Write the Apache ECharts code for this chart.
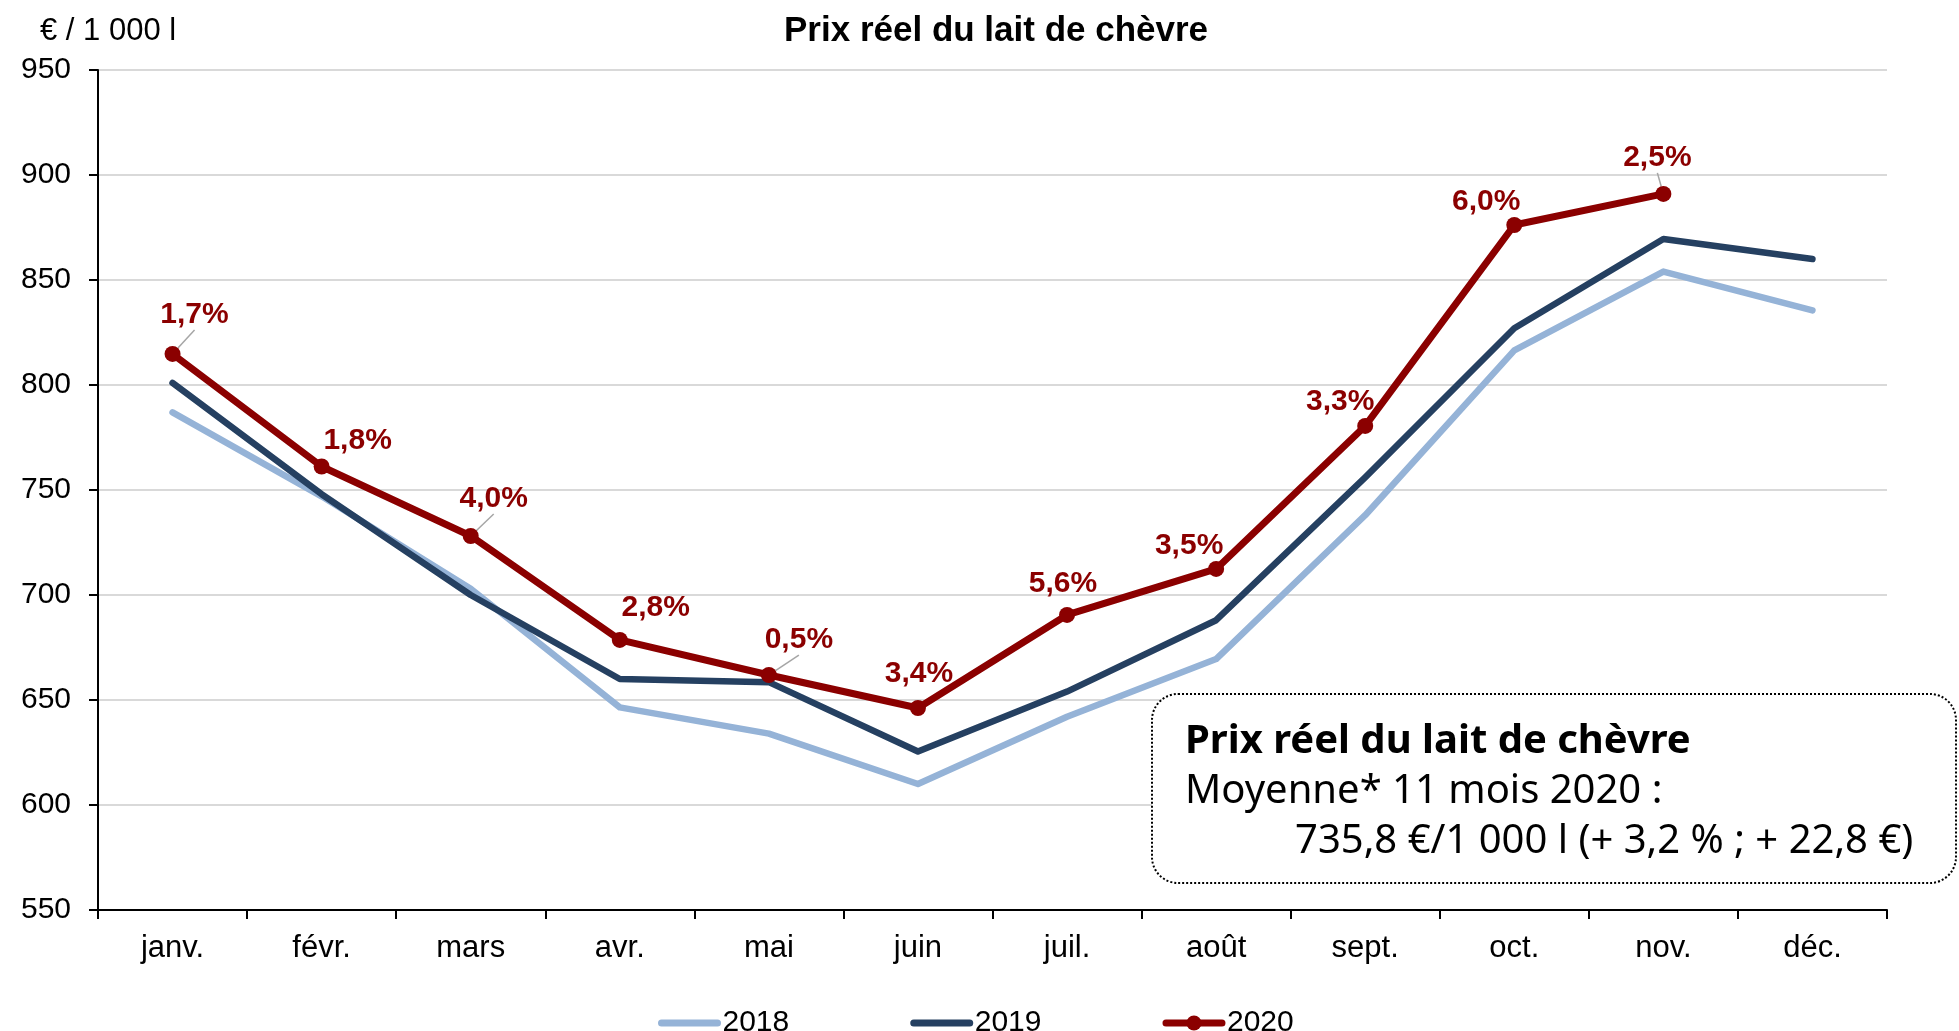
<!DOCTYPE html>
<html>
<head>
<meta charset="utf-8">
<script src="https://cdn.jsdelivr.net/npm/echarts@6/dist/echarts.min.js"></script>
<style>
  html, body { margin: 0; padding: 0; background: #fff; }
  #chart { width: 1959px; height: 1031px; }
</style>
</head>
<body>
<div id="chart"></div>
<script>
// ===== 数据 =====
const months = ['janv.', 'févr.', 'mars', 'avr.', 'mai', 'juin', 'juil.', 'août', 'sept.', 'oct.', 'nov.', 'déc.']
const prix2018 = [787, 747, 703, 646.5, 634, 610, 642, 669.5, 738, 816.5, 854, 835.5]
const prix2019 = [801, 748, 700, 660, 658.5, 625.5, 654, 688, 756, 827, 869.5, 860]
const prix2020 = [814.8, 761.2, 728.1, 678.6, 661.9, 646.2, 690.5, 712.4, 780.5, 876.2, 891, null]
const variation2020 = ['1,7%', '1,8%', '4,0%', '2,8%', '0,5%', '3,4%', '5,6%', '3,5%', '3,3%', '6,0%', '2,5%']
const yTicks = { min: 550, max: 950, step: 50 }

// label placement (px, relative to the point) + which ones get a leader line
const labelOffsets = [[22, -39], [36, -26], [23, -37], [36, -32], [30, -35], [1, -34],
  [-4, -31], [-27, -23], [-25, -24], [-28, -23], [-6, -36]]
const withLeader = [0, 2, 4, 10]

const font = "'Liberation Sans', Arial, sans-serif"
const boxFont = "'Noto Sans', sans-serif"
const red = '#8B0000'
const lightBlue = '#95B3D7'
const darkBlue = '#254061'

const chart = echarts.init(document.getElementById('chart'))

chart.setOption({
  animation: false,
  textStyle: { fontFamily: font },
  title: [
    {
      text: 'Prix réel du lait de chèvre',
      left: 779, top: 9,
      textStyle: { fontSize: 35, fontWeight: 'bold', color: '#000', fontFamily: font }
    },
    {
      text: '€ / 1 000 l',
      left: 35, top: 11,
      textStyle: { fontSize: 31, fontWeight: 'normal', color: '#000', fontFamily: font }
    }
  ],
  grid: { left: 98, right: 72, top: 70, bottom: 121, containLabel: false, outerBoundsMode: 'none' },
  legend: {
    left: 653, top: 1003,
    itemWidth: 56, itemHeight: 19, itemGap: 121,
    textStyle: { fontSize: 30, color: '#000', fontFamily: font },
    data: [
      { name: '2018', itemStyle: { opacity: 0 }, lineStyle: { color: lightBlue, width: 7, cap: 'round' } },
      { name: '2019', itemStyle: { opacity: 0 }, lineStyle: { color: darkBlue, width: 7, cap: 'round' } },
      { name: '2020', lineStyle: { color: red, width: 7, cap: 'round' } }
    ]
  },
  xAxis: {
    type: 'category',
    data: months,
    boundaryGap: true,
    axisLine: { show: true, lineStyle: { color: '#000', width: 2 } },
    axisTick: { show: true, length: 9, inside: false, alignWithLabel: false, lineStyle: { color: '#000', width: 2 } },
    axisLabel: { fontSize: 31, color: '#000', margin: 23, fontFamily: font },
    splitLine: { show: false }
  },
  yAxis: {
    type: 'value',
    min: yTicks.min, max: yTicks.max, interval: yTicks.step,
    axisLine: { show: true, lineStyle: { color: '#000', width: 2 } },
    axisTick: { show: true, length: 9, inside: false, lineStyle: { color: '#000', width: 2 } },
    axisLabel: { fontSize: 30, color: '#000', margin: 27, fontFamily: font },
    splitLine: { show: true, lineStyle: { color: '#d9d9d9', width: 2 } }
  },
  series: [
    {
      name: '2018', type: 'line', data: prix2018,
      symbol: 'none',
      lineStyle: { color: lightBlue, width: 6.5, cap: 'round', join: 'round' },
      itemStyle: { color: lightBlue },
      z: 2
    },
    {
      name: '2019', type: 'line', data: prix2019,
      symbol: 'none',
      lineStyle: { color: darkBlue, width: 6.5, cap: 'round', join: 'round' },
      itemStyle: { color: darkBlue },
      z: 3
    },
    {
      name: '2020', type: 'line',
      data: prix2020.map((v, i) => ({
        value: v,
        label: {
          show: v != null,
          offset: labelOffsets[i] || [0, 0]
        },
        labelLine: { show: withLeader.includes(i) }
      })),
      symbol: 'circle', symbolSize: 16,
      lineStyle: { color: red, width: 7, cap: 'round', join: 'round' },
      itemStyle: { color: red },
      label: {
        show: true,
        position: 'inside',
        formatter: p => variation2020[p.dataIndex] || '',
        color: red, fontSize: 30, fontWeight: 'bold', fontFamily: font
      },
      labelLine: { lineStyle: { color: '#a6a6a6', width: 1.5 } },
      z: 4
    }
  ],
  graphic: [
    {
      type: 'rect',
      shape: { x: 1152, y: 694, width: 804, height: 189, r: 26 },
      style: { fill: '#fff', stroke: '#000', lineWidth: 2, lineDash: [2, 2] },
      z: 10
    },
    {
      type: 'text', x: 1185, y: 742, z: 11,
      style: { text: 'Prix réel du lait de chèvre', fill: '#000', font: 'bold 40px ' + boxFont, verticalAlign: 'middle' }
    },
    {
      type: 'text', x: 1185, y: 792, z: 11,
      style: { text: 'Moyenne* 11 mois 2020 :', fill: '#000', font: '40px ' + boxFont, verticalAlign: 'middle' }
    },
    {
      type: 'text', x: 1295, y: 842, z: 11,
      style: { text: '735,8 €/1 000 l (+ 3,2 % ; + 22,8 €)', fill: '#000', font: '40px ' + boxFont, verticalAlign: 'middle' }
    }
  ]
})
</script>
</body>
</html>
